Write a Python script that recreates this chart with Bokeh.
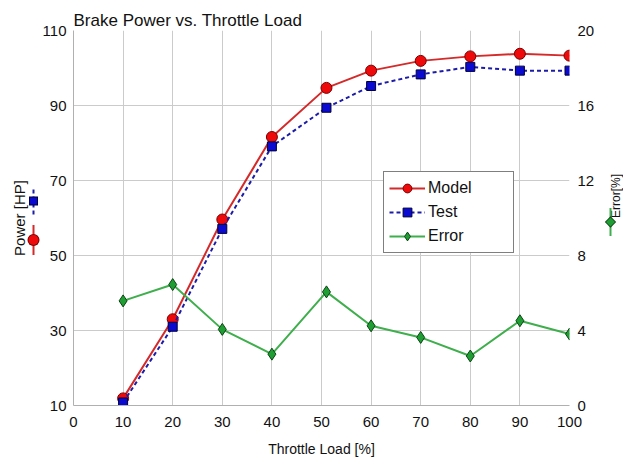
from bokeh.plotting import figure
from bokeh.models import LinearAxis, Range1d, Legend, LegendItem, FixedTicker
from bokeh.embed import file_html
from bokeh.resources import INLINE

# ---- data ----
throttle = [10, 20, 30, 40, 51, 60, 70, 80, 90, 100]
model_hp = [11.9, 33.0, 59.6, 81.6, 94.7, 99.3, 101.9, 103.1, 103.8, 103.3]
test_hp = [10.8, 31.0, 57.1, 79.1, 89.4, 95.2, 98.3, 100.3, 99.3, 99.3]
error_pct = [5.58, 6.45, 4.06, 2.74, 6.06, 4.25, 3.63, 2.64, 4.52, 3.81]

x_ticks = [0, 10, 20, 30, 40, 50, 60, 70, 80, 90, 100]
left_ticks = [10, 30, 50, 70, 90, 110]
right_ticks = [0, 4, 8, 12, 16, 20]
series_names = ["Model", "Test", "Error"]

FONT = "Liberation Sans"
RED_LINE, RED_FILL, RED_EDGE = "#d42a2a", "#ee0a0a", "#7a0000"
BLUE_LINE, BLUE_FILL, BLUE_EDGE = "#1c1ca8", "#0a0ad0", "#00003a"
GREEN_LINE, GREEN_FILL, GREEN_EDGE = "#3fae4c", "#1f9e33", "#0a4412"
GRID = "#cbcbcb"
FW, FH = 496, 375

p = figure(frame_width=FW, frame_height=FH,
           x_range=Range1d(0, 100), y_range=Range1d(10, 110),
           min_border_left=73, min_border_right=54, min_border_top=30, min_border_bottom=52,
           output_backend="svg", toolbar_location=None,
           title="Brake Power vs. Throttle Load")
p.extra_y_ranges = {"err": Range1d(0, 20)}
p.outline_line_color = None
p.background_fill_color = "white"
p.border_fill_color = "white"

p.title.text_font = FONT
p.title.text_font_size = "17px"
p.title.text_font_style = "normal"
p.title.text_color = "#111111"
p.title.standoff = 2
p.title.offset = 0

# axes
xa = p.xaxis[0]
xa.ticker = FixedTicker(ticks=x_ticks)
xa.axis_label = "Throttle Load [%]"
ya = p.yaxis[0]
ya.ticker = FixedTicker(ticks=left_ticks)
ya.axis_label = "Power [HP]"
ra = LinearAxis(y_range_name="err", ticker=FixedTicker(ticks=right_ticks),
                axis_label="Error[%]")
p.add_layout(ra, "right")

for ax in (xa, ya, ra):
    ax.major_tick_line_color = None
    ax.minor_tick_line_color = None
    ax.major_label_text_font = FONT
    ax.major_label_text_font_size = "15px"
    ax.major_label_text_color = "#111111"
    ax.axis_label_text_font = FONT
    ax.axis_label_text_font_style = "normal"
    ax.axis_label_text_color = "#111111"
xa.axis_line_color = "#b0b0b0"
ya.axis_line_color = "#b0b0b0"
ra.axis_line_color = None
xa.major_label_standoff = 5
ya.major_label_standoff = 1
ra.major_label_standoff = 2
xa.axis_label_text_font_size = "14px"
xa.axis_label_standoff = 11
ya.axis_label_text_font_size = "15px"
ya.axis_label_standoff = 12
ra.axis_label_text_font_size = "12px"
ra.axis_label_standoff = 19
ra.axis_label_orientation = -4.712389   # one turn back from +90deg: reads bottom-to-top

p.xgrid.ticker = FixedTicker(ticks=x_ticks[1:])
p.ygrid.ticker = FixedTicker(ticks=left_ticks[1:-1])
p.xgrid.grid_line_color = GRID
p.ygrid.grid_line_color = GRID

# series
m_line = p.line(throttle, model_hp, line_color=RED_LINE, line_width=2)
m_pts = p.scatter(throttle, model_hp, marker="circle", size=11,
                  fill_color=RED_FILL, line_color=RED_EDGE, line_width=1)
t_line = p.line(throttle, test_hp, line_color=BLUE_LINE, line_width=2, line_dash="4 3")
t_pts = p.scatter(throttle, test_hp, marker="square", size=9,
                  fill_color=BLUE_FILL, line_color=BLUE_EDGE, line_width=1)
e_line = p.line(throttle, error_pct, y_range_name="err", line_color=GREEN_LINE, line_width=2)
e_pts = p.scatter(throttle, error_pct, y_range_name="err", marker="diamond",
                  size=12, fill_color=GREEN_FILL, line_color=GREEN_EDGE, line_width=1)

legend = Legend(items=[
    LegendItem(label=series_names[0], renderers=[m_line, m_pts]),
    LegendItem(label=series_names[1], renderers=[t_line, t_pts]),
    LegendItem(label=series_names[2], renderers=[e_line, e_pts]),
], location=(310, 152))
legend.margin = 0
legend.padding = 5
legend.spacing = 2
legend.glyph_width = 36
legend.glyph_height = 22
legend.label_height = 22
legend.label_width = 80
legend.label_standoff = 3
legend.label_text_font = FONT
legend.label_text_font_size = "16px"
legend.label_text_color = "#111111"
legend.border_line_color = "black"
legend.border_line_width = 1.5
legend.background_fill_color = "white"
legend.background_fill_alpha = 1
p.add_layout(legend, "center")

# ---- small series keys beside the axis titles (outside the frame, overlay level) ----
x0, x1 = p.x_range.start, p.x_range.end
yl0, yl1 = p.y_range.start, p.y_range.end
ye0, ye1 = p.extra_y_ranges["err"].start, p.extra_y_ranges["err"].end
sx = (x1 - x0) / FW
syl = (yl1 - yl0) / FH
sye = (ye1 - ye0) / FH

def fx(px):
    return x0 + px * sx

def fyl(py):
    return yl0 + py * syl

def fye(py):
    return ye0 + py * sye

KL, KR = -40, 537          # key columns, pixels from frame left
RY, BY, GY = 165.5, 204.5, 183.5   # key centres, pixels above frame bottom

# red key: vertical line + round dot
p.line([fx(KL)] * 2, [fyl(RY - 15), fyl(RY + 15)], line_color=RED_LINE, line_width=2, level="overlay")
p.line([fx(KL)] * 2, [fyl(RY - 0.05), fyl(RY + 0.05)], line_color=RED_EDGE, line_width=12,
       line_cap="round", level="overlay")
p.line([fx(KL)] * 2, [fyl(RY - 0.05), fyl(RY + 0.05)], line_color=RED_FILL, line_width=10,
       line_cap="round", level="overlay")
# blue key: dashed vertical line + square
p.line([fx(KL)] * 2, [fyl(BY - 13.5), fyl(BY + 13.5)], line_color=BLUE_LINE, line_width=2,
       line_dash="4 3", level="overlay")
p.line([fx(KL - 4.5), fx(KL + 4.5)], [fyl(BY)] * 2, line_color=BLUE_EDGE, line_width=9, level="overlay")
p.line([fx(KL - 3.5), fx(KL + 3.5)], [fyl(BY)] * 2, line_color=BLUE_FILL, line_width=7, level="overlay")
# green key: vertical line + diamond
p.line([fx(KR)] * 2, [fye(GY - 14), fye(GY + 14)], y_range_name="err", line_color=GREEN_LINE,
       line_width=2, level="overlay")
for side, col in ((8, GREEN_EDGE), (6.4, GREEN_FILL)):
    h = side / 2 / 1.41421
    p.line([fx(KR - h), fx(KR + h)], [fye(GY - h), fye(GY + h)], y_range_name="err",
           line_color=col, line_width=side, level="overlay")

open("out.html", "w").write(file_html(p, INLINE))
